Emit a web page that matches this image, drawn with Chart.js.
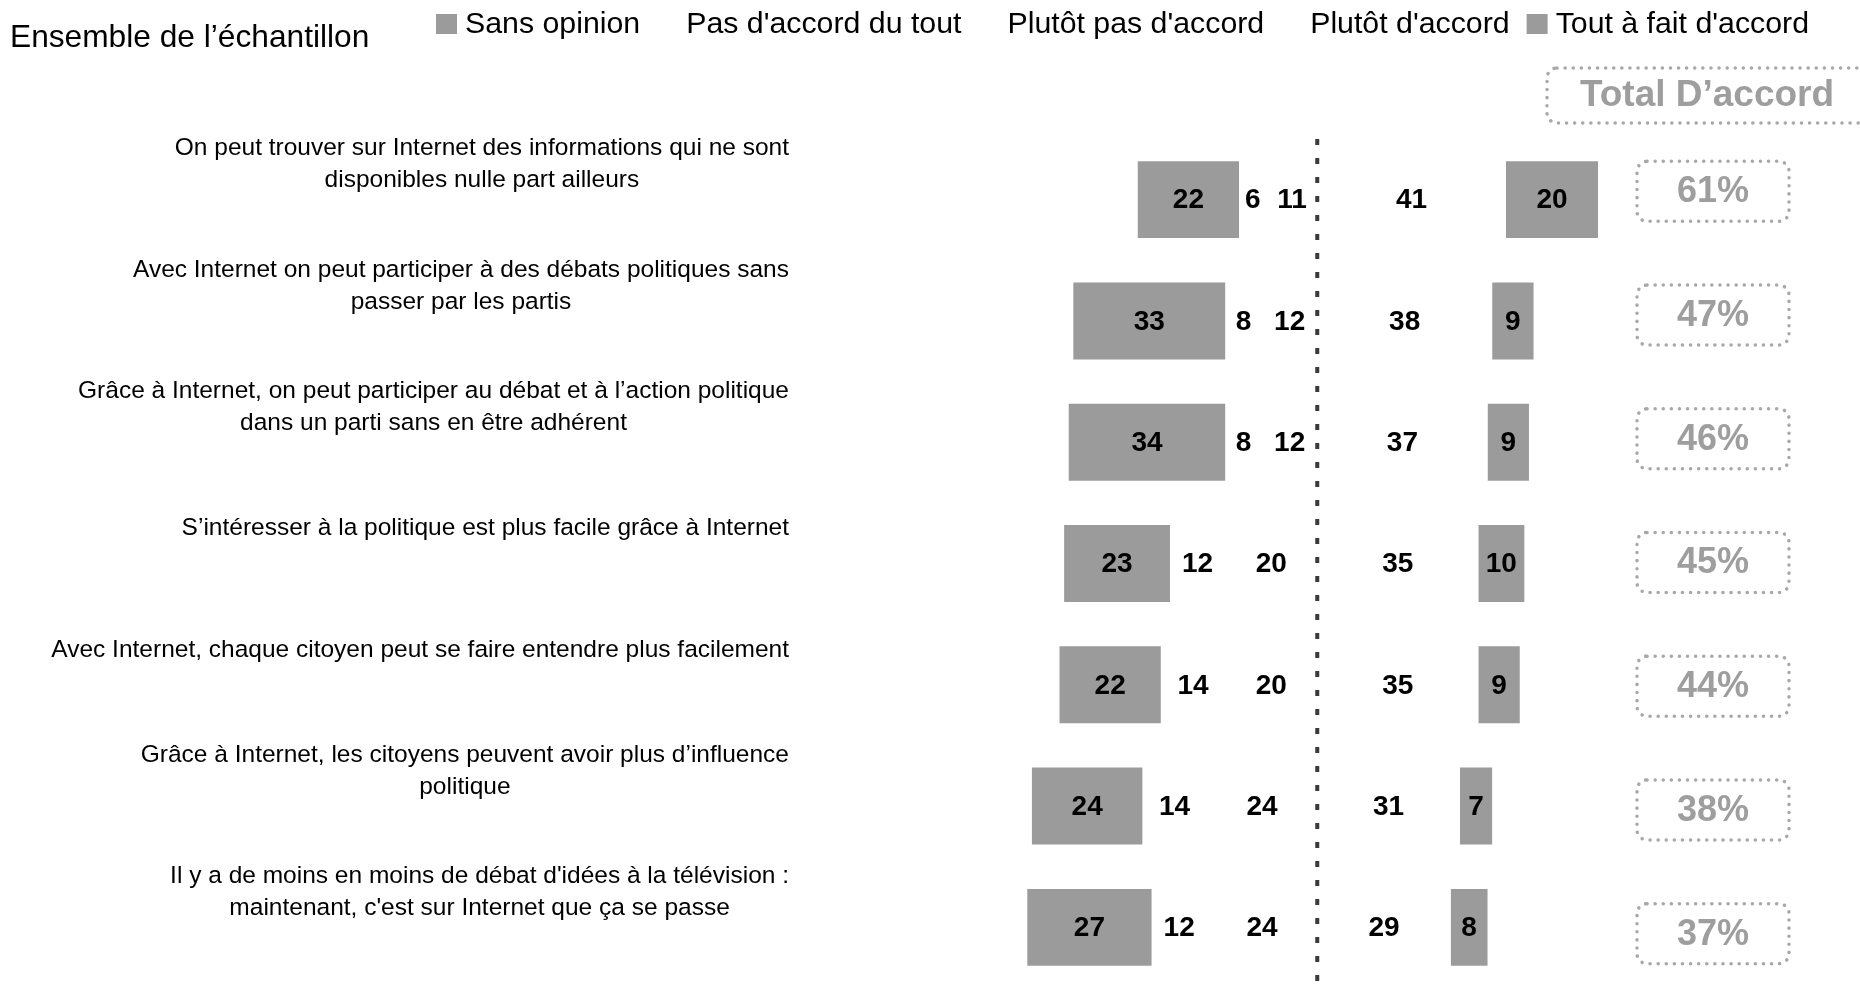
<!DOCTYPE html>
<html>
<head>
<meta charset="utf-8">
<script src="https://cdn.jsdelivr.net/npm/chart.js@4/dist/chart.umd.min.js"></script>
<style>
  body { margin: 0; background: #fff; }
  #wrap { width: 1860px; height: 988px; position: relative; }
</style>
</head>
<body>
<div id="wrap"><canvas id="chart"></canvas></div>
<script>

// Data

const questions = [
    ["On peut trouver sur Internet des informations qui ne sont", "disponibles nulle part ailleurs"],
    ["Avec Internet on peut participer à des débats politiques sans", "passer par les partis"],
    ["Grâce à Internet, on peut participer au débat et à l’action politique", "dans un parti sans en être adhérent"],
    ["S’intéresser à la politique est plus facile grâce à Internet"],
    ["Avec Internet, chaque citoyen peut se faire entendre plus facilement"],
    ["Grâce à Internet, les citoyens peuvent avoir plus d’influence", "politique"],
    ["Il y a de moins en moins de débat d'idées à la télévision :", "maintenant, c'est sur Internet que ça se passe"]
];

const sansOpinion  = [22, 33, 34, 23, 22, 24, 27];
const pasDuTout    = [6, 8, 8, 12, 14, 14, 12];
const plutotPas    = [11, 12, 12, 20, 20, 24, 24];
const plutotAccord = [41, 38, 37, 35, 35, 31, 29];
const toutAFait    = [20, 9, 9, 10, 9, 7, 8];
const totalAccord  = [61, 47, 46, 45, 44, 38, 37];

const GREY = "#9b9b9b";
const FONT = "'Liberation Sans', Arial, sans-serif";

// floating bars around the neutral line (0)
const sansBars = sansOpinion.map((v, i) => [-(v + pasDuTout[i] + plutotPas[i]), -(pasDuTout[i] + plutotPas[i])]);
const pdtBars  = pasDuTout.map((v, i) => [-(v + plutotPas[i]), -plutotPas[i]]);
const ppBars   = plutotPas.map(v => [-v, 0]);
const paBars   = plutotAccord.map(v => [0, v]);
const tafBars  = toutAFait.map((v, i) => [plutotAccord[i], plutotAccord[i] + v]);

function roundRect(ctx, x, y, w, h, r) {
    ctx.beginPath();
    ctx.moveTo(x + r, y);
    ctx.lineTo(x + w - r, y);
    ctx.arcTo(x + w, y, x + w, y + r, r);
    ctx.lineTo(x + w, y + h - r);
    ctx.arcTo(x + w, y + h, x + w - r, y + h, r);
    ctx.lineTo(x + r, y + h);
    ctx.arcTo(x, y + h, x, y + h - r, r);
    ctx.lineTo(x, y + r);
    ctx.arcTo(x, y, x + r, y, r);
    ctx.closePath();
}

function dottedBox(ctx, x, y, w, h) {
    ctx.save();
    ctx.strokeStyle = "#a8a8a8";
    ctx.lineWidth = 3.5;
    ctx.lineCap = "round";
    ctx.setLineDash([0.1, 8]);
    roundRect(ctx, x, y, w, h, 10);
    ctx.stroke();
    ctx.restore();
}

// Extras : labels, legend, dashed line, totals

const extras = {
    id: "extras",
    afterDatasetsDraw(chart) {
        const ctx = chart.ctx;
        const xs = chart.scales.x;
        const ys = chart.scales.y;
        const area = chart.chartArea;

        // centre dashed line
        const x0 = xs.getPixelForValue(0);
        ctx.save();
        ctx.strokeStyle = "#3a3a3a";
        ctx.lineWidth = 4;
        ctx.setLineDash([6, 13]);
        ctx.beginPath();
        ctx.moveTo(x0, area.top);
        ctx.lineTo(x0, area.bottom);
        ctx.stroke();
        ctx.restore();

        // values in the bars
        ctx.save();
        ctx.fillStyle = "#000";
        ctx.font = "bold 28px " + FONT;
        ctx.textAlign = "center";
        ctx.textBaseline = "middle";
        chart.data.datasets.forEach((ds, di) => {
            chart.getDatasetMeta(di).data.forEach((bar, j) => {
                ctx.fillText(ds.values[j], (bar.x + bar.base) / 2, bar.y + 1);
            });
        });
        ctx.restore();

        // question labels
        ctx.save();
        ctx.fillStyle = "#000";
        ctx.font = "24.5px " + FONT;
        ctx.textAlign = "center";
        ctx.textBaseline = "middle";
        const rightEdge = 789;
        questions.forEach((lines, i) => {
            const w = Math.max(...lines.map(l => ctx.measureText(l).width));
            const cx = rightEdge - w / 2;
            const cy = ys.getPixelForValue(i) - 35;
            lines.forEach((l, k) => {
                ctx.fillText(l, cx, cy + (k - (lines.length - 1) / 2) * 32);
            });
        });
        ctx.restore();

        // total d'accord
        ctx.save();
        ctx.fillStyle = "#9e9e9e";
        ctx.textAlign = "center";
        ctx.textBaseline = "middle";
        ctx.font = "bold 37px " + FONT;
        dottedBox(ctx, 1547, 68, 340, 55);
        ctx.fillText("Total D’accord", 1707, 96);
        ctx.font = "bold 36px " + FONT;
        const mid = ys.getPixelForValue(3);
        totalAccord.forEach((v, i) => {
            // the boxes are spread slightly wider than the bar rows
            const cy = mid - 1 + (ys.getPixelForValue(i) - mid) * 1.02;
            dottedBox(ctx, 1637, cy - 30, 152, 60);
            ctx.fillText(v + "%", 1713, cy + 1);
        });
        ctx.restore();

        // title + legend
        ctx.save();
        ctx.fillStyle = "#000";
        ctx.textBaseline = "middle";
        ctx.textAlign = "left";
        ctx.font = "31.7px " + FONT;
        ctx.fillText("Ensemble de l’échantillon", 10, 38);
        ctx.font = "30.3px " + FONT;
        let lx = 436;
        chart.data.datasets.forEach(ds => {
            ctx.fillStyle = ds.backgroundColor;
            ctx.fillRect(lx, 14, 21, 20);
            ctx.fillStyle = "#000";
            ctx.fillText(ds.label, lx + 29, 25);
            lx += 29 + ctx.measureText(ds.label).width + 17;
        });
        ctx.restore();
    }
};

const chartCtx = document.querySelector("#chart").getContext("2d");

new Chart(chartCtx, {
    type: "bar",
    data: {
        labels: questions.map(q => q.join(" ")),
        datasets: [
            { label: "Sans opinion", data: sansBars, values: sansOpinion, backgroundColor: GREY },
            { label: "Pas d'accord du tout", data: pdtBars, values: pasDuTout, backgroundColor: "#ffffff" },
            { label: "Plutôt pas d'accord", data: ppBars, values: plutotPas, backgroundColor: "#ffffff" },
            { label: "Plutôt d'accord", data: paBars, values: plutotAccord, backgroundColor: "#ffffff" },
            { label: "Tout à fait d'accord", data: tafBars, values: toutAFait, backgroundColor: GREY }
        ]
    },
    options: {
        indexAxis: "y",
        responsive: true,
        maintainAspectRatio: false,
        animation: false,
        layout: { padding: { top: 139, bottom: 0, left: 811, right: 239 } },
        datasets: {
            bar: { categoryPercentage: 1, barPercentage: 0.634, borderWidth: 0 }
        },
        scales: {
            x: { display: false, stacked: false, min: -110, max: 66 },
            y: { display: false, stacked: true }
        },
        plugins: {
            legend: { display: false },
            tooltip: { enabled: false }
        }
    },
    plugins: [extras]
});
</script>
</body>
</html>
